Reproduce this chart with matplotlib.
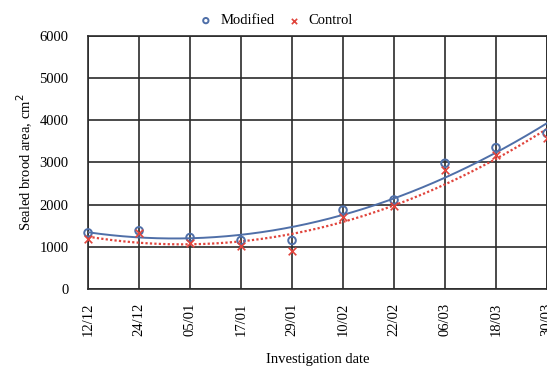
import matplotlib.pyplot as plt
import numpy as np

plt.rcParams['font.family'] = ['Liberation Serif', 'DejaVu Serif']

# investigation dates and sealed brood area per colony group
dates = ['12/12', '24/12', '05/01', '17/01', '29/01', '10/02', '22/02', '06/03', '18/03', '30/03']
modified = [1330, 1380, 1220, 1150, 1150, 1870, 2110, 2980, 3350, 3690]
control = [1180, 1320, 1080, 1020, 910, 1715, 1970, 2820, 3180, 3570]

blue = '#4f6fa8'
red = '#e0443c'

fig = plt.figure(figsize=(5.47, 3.70), dpi=100)
ax = fig.add_axes([0.161, 0.219, 0.839, 0.684])

x = np.arange(len(dates))

# second order trend lines
xs = np.linspace(0, len(dates) - 1, 200)
pm = np.polyfit(x, modified, 2)
pc = np.polyfit(x, control, 2)
ax.plot(xs, np.polyval(pm, xs), color=blue, lw=1.4, zorder=3)
ax.plot(xs, np.polyval(pc, xs), color=red, lw=1.6, ls=(0, (1, 1)), zorder=3)

ax.scatter(x, modified, marker='o', s=30, facecolors='none', edgecolors=blue,
           linewidths=1.4, zorder=4, label='Modified', clip_on=False)
ax.scatter(x, control, marker='x', s=30, color=red, linewidths=1.2,
           zorder=4, label='Control', clip_on=False)

ax.set_xlim(0, len(dates) - 1)
ax.set_ylim(0, 6000)
ax.set_xticks(x)
ax.set_xticklabels(dates, rotation=90, fontsize=10.5)
ax.set_yticks(np.arange(0, 6001, 1000))
ax.tick_params(axis='y', length=0, pad=14, labelsize=10.5)
ax.tick_params(axis='x', length=0, pad=10)
ax.grid(True, color='#2b2b2b', lw=1.2)
ax.set_axisbelow(True)
for s in ax.spines.values():
    s.set_color('#2b2b2b')
    s.set_linewidth(1.2)

ax.set_xlabel('Investigation date', fontsize=10.5, labelpad=12)
ax.set_ylabel('Sealed brood area, cm$^2$', fontsize=10.5, labelpad=3)

fig.legend(loc='upper center', bbox_to_anchor=(0.497, 0.997), ncol=2, frameon=False,
           fontsize=10.5, handletextpad=0.0, columnspacing=0.3, markerscale=0.7)

fig.savefig('out.png', dpi=100)
